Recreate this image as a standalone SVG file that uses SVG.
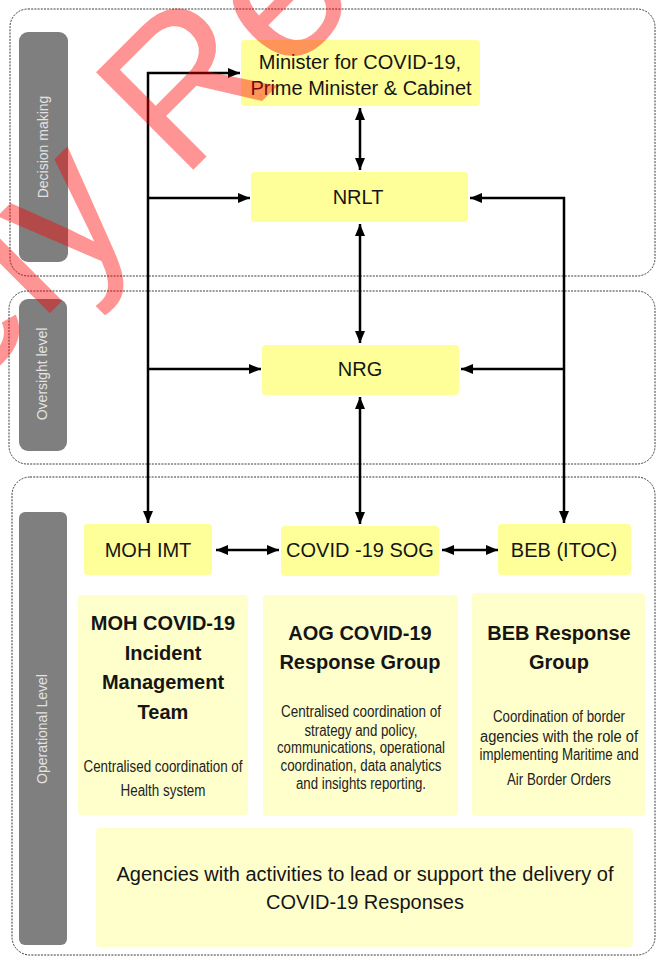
<svg xmlns="http://www.w3.org/2000/svg" width="657" height="960" viewBox="0 0 657 960">
<defs>
<style>
.panel{fill:none;stroke:#3a3a3a;stroke-width:1;stroke-dasharray:2 1.2}
.bar{fill:#7f7f7f}
.bartxt{font-family:"Liberation Sans",Arial,sans-serif;font-size:14px;fill:#e2e2e2;text-anchor:middle}
.node{fill:#ffff99}
.desc{fill:#ffffcc}
.lbl{font-family:"Liberation Sans",Arial,sans-serif;font-size:20px;fill:#151515;text-anchor:middle}
.ttl{font-family:"Liberation Sans",Arial,sans-serif;font-size:20px;font-weight:bold;fill:#151515;text-anchor:middle}
.sm{font-family:"Liberation Sans",Arial,sans-serif;font-size:16px;fill:#222;text-anchor:middle}
.conn line{stroke:#000;stroke-width:2.5;fill:none}
.wm{font-family:"Liberation Sans",Arial,sans-serif;font-size:200px;fill:#ff0000;fill-opacity:0.42}
</style>
<marker id="ah" viewBox="0 0 12 10" refX="12" refY="5" markerWidth="12" markerHeight="10" markerUnits="userSpaceOnUse" orient="auto-start-reverse">
<path d="M0,0 L12,5 L0,10 z" fill="#000"/>
</marker>
</defs>
<rect width="657" height="960" fill="#ffffff"/>

<g id="panels">
<rect class="panel" x="10" y="9" width="645" height="267" rx="18"/>
<rect class="panel" x="9" y="291" width="646" height="173" rx="18"/>
<rect class="panel" x="12" y="477" width="643" height="478" rx="18"/>
</g>

<g id="level-decision">
<rect class="bar" x="19" y="32" width="49" height="230" rx="9"/>
<text class="bartxt" transform="translate(48,147) rotate(-90)">Decision making</text>
</g>
<g id="level-oversight">
<rect class="bar" x="19" y="299" width="48" height="152" rx="9"/>
<text class="bartxt" transform="translate(47,374) rotate(-90)">Oversight level</text>
</g>
<g id="level-operational">
<rect class="bar" x="19" y="512" width="48" height="433" rx="6"/>
<text class="bartxt" transform="translate(47,729) rotate(-90)">Operational Level</text>
</g>

<g id="minister">
<rect class="node" x="241" y="40" width="239" height="66" rx="4"/>
<text class="lbl" x="360" y="69">Minister for COVID-19,</text>
<text class="lbl" x="361" y="95">Prime Minister &amp; Cabinet</text>
</g>
<g id="nrlt">
<rect class="node" x="251" y="172" width="217" height="50" rx="4"/>
<text class="lbl" x="358" y="204">NRLT</text>
</g>
<g id="nrg">
<rect class="node" x="262" y="345" width="197" height="50" rx="4"/>
<text class="lbl" x="360" y="376">NRG</text>
</g>
<g id="moh-imt">
<rect class="node" x="84" y="524" width="128" height="51" rx="4"/>
<text class="lbl" x="148" y="557">MOH IMT</text>
</g>
<g id="covid-sog">
<rect class="node" x="281" y="526" width="158" height="50" rx="4"/>
<text class="lbl" x="360" y="557">COVID -19 SOG</text>
</g>
<g id="beb-itoc">
<rect class="node" x="498" y="524" width="133" height="51" rx="4"/>
<text class="lbl" x="564" y="557">BEB (ITOC)</text>
</g>

<g id="moh-team">
<rect class="desc" x="78" y="595" width="170" height="220" rx="4"/>
<text class="ttl" x="163" y="630">MOH COVID-19</text>
<text class="ttl" x="163" y="660">Incident</text>
<text class="ttl" x="163" y="689">Management</text>
<text class="ttl" x="163" y="719">Team</text>
<text class="sm" x="163" y="772" textLength="159" lengthAdjust="spacingAndGlyphs">Centralised coordination of</text>
<text class="sm" x="163" y="796" textLength="85" lengthAdjust="spacingAndGlyphs">Health system</text>
</g>
<g id="aog-group">
<rect class="desc" x="263" y="595" width="195" height="221" rx="4"/>
<text class="ttl" x="360" y="640">AOG COVID-19</text>
<text class="ttl" x="360" y="669">Response Group</text>
<text class="sm" x="361" y="717" textLength="160" lengthAdjust="spacingAndGlyphs">Centralised coordination of</text>
<text class="sm" x="361" y="736" textLength="113" lengthAdjust="spacingAndGlyphs">strategy and policy,</text>
<text class="sm" x="361" y="753" textLength="168" lengthAdjust="spacingAndGlyphs">communications, operational</text>
<text class="sm" x="361" y="771" textLength="161" lengthAdjust="spacingAndGlyphs">coordination, data analytics</text>
<text class="sm" x="361" y="789" textLength="130" lengthAdjust="spacingAndGlyphs">and insights reporting.</text>
</g>
<g id="beb-group">
<rect class="desc" x="472" y="593" width="173" height="223" rx="4"/>
<text class="ttl" x="559" y="640">BEB Response</text>
<text class="ttl" x="559" y="669">Group</text>
<text class="sm" x="559" y="722" textLength="132" lengthAdjust="spacingAndGlyphs">Coordination of border</text>
<text class="sm" x="559" y="742" textLength="158" lengthAdjust="spacingAndGlyphs">agencies with the role of</text>
<text class="sm" x="559" y="760" textLength="159" lengthAdjust="spacingAndGlyphs">implementing Maritime and</text>
<text class="sm" x="559" y="785" textLength="104" lengthAdjust="spacingAndGlyphs">Air Border Orders</text>
</g>
<g id="agencies">
<rect class="desc" x="96" y="828" width="537" height="119" rx="4"/>
<text class="lbl" x="365" y="881">Agencies with activities to lead or support the delivery of</text>
<text class="lbl" x="365" y="909">COVID-19 Responses</text>
</g>

<g id="connectors" class="conn">
<line x1="148" y1="72" x2="148" y2="523" marker-end="url(#ah)"/>
<line x1="147" y1="73" x2="240" y2="73" marker-end="url(#ah)"/>
<line x1="148" y1="198" x2="250" y2="198" marker-end="url(#ah)"/>
<line x1="148" y1="369" x2="261" y2="369" marker-end="url(#ah)"/>
<line x1="564" y1="197" x2="564" y2="523" marker-end="url(#ah)"/>
<line x1="565" y1="198" x2="470" y2="198" marker-end="url(#ah)"/>
<line x1="564" y1="369" x2="461" y2="369" marker-end="url(#ah)"/>
<line x1="360" y1="108" x2="360" y2="170" marker-start="url(#ah)" marker-end="url(#ah)"/>
<line x1="360" y1="224" x2="360" y2="343" marker-start="url(#ah)" marker-end="url(#ah)"/>
<line x1="360" y1="397" x2="360" y2="524" marker-start="url(#ah)" marker-end="url(#ah)"/>
<line x1="216" y1="550" x2="279" y2="550" marker-start="url(#ah)" marker-end="url(#ah)"/>
<line x1="442" y1="550" x2="498" y2="550" marker-start="url(#ah)" marker-end="url(#ah)"/>
</g>

<g id="watermark">
<text class="wm" transform="translate(182,181) rotate(-45)" x="-1034" y="0">Proactively Released</text>
</g>
</svg>
